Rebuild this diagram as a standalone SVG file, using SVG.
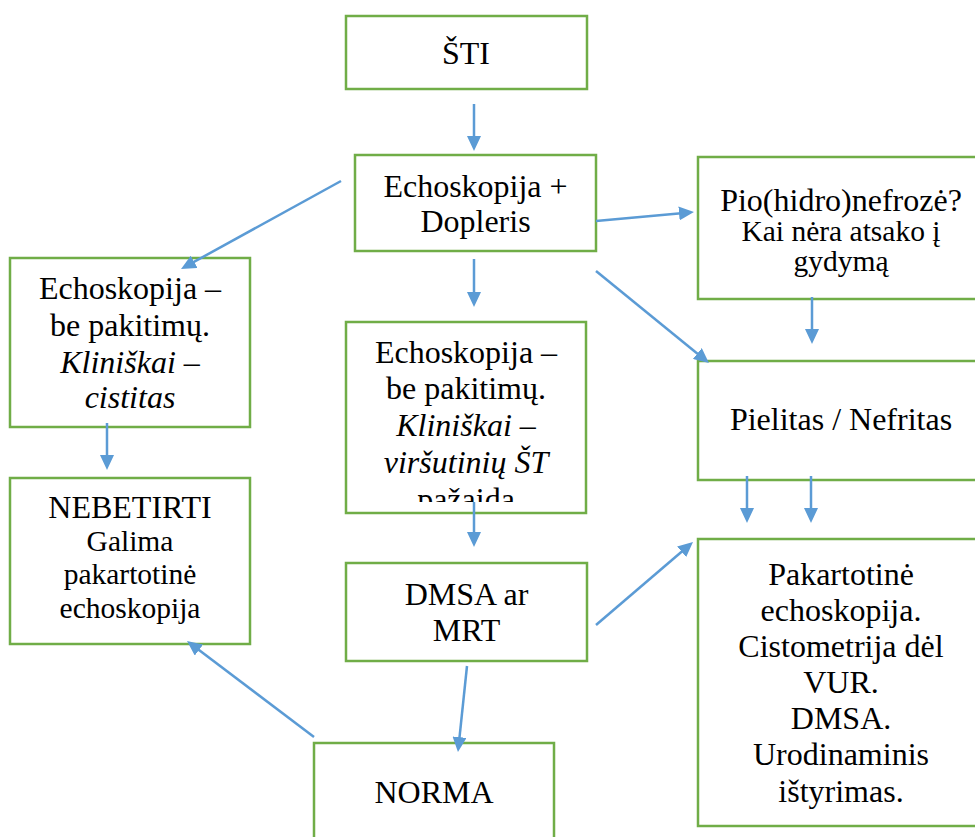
<svg xmlns="http://www.w3.org/2000/svg" width="975" height="837" viewBox="0 0 975 837" font-family="Liberation Serif, Times New Roman, Times, serif">
<style>
.box{fill:#fff;stroke:#70AD47;stroke-width:2.5}
text{font-size:32px;fill:#000;text-anchor:middle}
.s{font-size:29.5px}
.i{font-style:italic}
.c{fill:none;stroke:#5B9BD5;stroke-width:2.5;marker-end:url(#ah)}
</style>
<defs>
<marker id="ah" markerUnits="userSpaceOnUse" markerWidth="15" markerHeight="14" refX="5" refY="7" orient="auto">
<path d="M0,0 L15,7 L0,14 z" fill="#5B9BD5"/>
</marker>
<clipPath id="midclip"><rect x="346" y="322" width="240" height="180"/></clipPath>
</defs>
<rect width="975" height="837" fill="#fff"/>
<g id="n-sti">
<rect class="box" x="346" y="16" width="241" height="73"/>
<text x="466" y="64">ŠTI</text>
</g>
<g id="n-echo">
<rect class="box" x="355" y="155" width="241" height="96"/>
<text x="475.5" y="197">Echoskopija +</text>
<text x="475.5" y="232">Dopleris</text>
</g>
<g id="n-left">
<rect class="box" x="10" y="258" width="240" height="169"/>
<text x="130" y="299">Echoskopija –</text>
<text x="130" y="336">be pakitimų.</text>
<text x="130" y="373"><tspan class="i">Kliniškai</tspan> –</text>
<text class="i" x="130" y="408">cistitas</text>
</g>
<g id="n-nebetirti">
<rect class="box" x="10" y="478" width="240" height="166"/>
<text x="130" y="518">NEBETIRTI</text>
<text class="s" x="130" y="551">Galima</text>
<text class="s" x="130" y="584">pakartotinė</text>
<text class="s" x="130" y="618">echoskopija</text>
</g>
<g id="n-middle">
<rect class="box" x="346" y="322" width="240" height="191"/>
<g clip-path="url(#midclip)">
<text x="466" y="363">Echoskopija –</text>
<text x="466" y="399">be pakitimų.</text>
<text x="466" y="436"><tspan class="i">Kliniškai</tspan> –</text>
<text class="i" x="466" y="473">viršutinių ŠT</text>
<text x="466" y="510">pažaida</text>
</g>
</g>
<g id="n-dmsa">
<rect class="box" x="346" y="563" width="241" height="98"/>
<text x="466.5" y="605">DMSA ar</text>
<text x="466.5" y="641">MRT</text>
</g>
<g id="n-norma">
<rect class="box" x="314" y="743" width="240" height="110"/>
<text x="434" y="803">NORMA</text>
</g>
<g id="n-pio">
<rect class="box" x="698" y="157" width="286" height="142"/>
<text x="841" y="211">Pio(hidro)nefrozė?</text>
<text class="s" x="841" y="241">Kai nėra atsako į</text>
<text class="s" x="841" y="271">gydymą</text>
</g>
<g id="n-pielitas">
<rect class="box" x="698" y="361" width="286" height="119"/>
<text x="841" y="430">Pielitas / Nefritas</text>
</g>
<g id="n-pakart">
<rect class="box" x="698" y="539" width="286" height="287"/>
<text x="841" y="585">Pakartotinė</text>
<text x="841" y="621">echoskopija.</text>
<text x="841" y="657">Cistometrija dėl</text>
<text x="841" y="693">VUR.</text>
<text x="841" y="729">DMSA.</text>
<text x="841" y="765">Urodinaminis</text>
<text x="841" y="802">ištyrimas.</text>
</g>
<g id="connectors">
<line class="c" x1="474" y1="104" x2="474" y2="141"/>
<line class="c" x1="474" y1="259" x2="474" y2="297"/>
<line class="c" x1="341" y1="181" x2="189.8" y2="264.2"/>
<line class="c" x1="596" y1="221" x2="684" y2="212.9"/>
<line class="c" x1="596" y1="271" x2="701.2" y2="356.7"/>
<line class="c" x1="812" y1="297" x2="812" y2="334"/>
<line class="c" x1="107" y1="423" x2="107" y2="460"/>
<line class="c" x1="474" y1="502" x2="474" y2="537"/>
<line class="c" x1="747" y1="476" x2="747" y2="513"/>
<line class="c" x1="811" y1="476" x2="811" y2="513"/>
<line class="c" x1="596" y1="625" x2="685.4" y2="548.5"/>
<line class="c" x1="467" y1="666" x2="459" y2="742.1"/>
<line class="c" x1="314" y1="737" x2="195" y2="647"/>
</g>
</svg>
